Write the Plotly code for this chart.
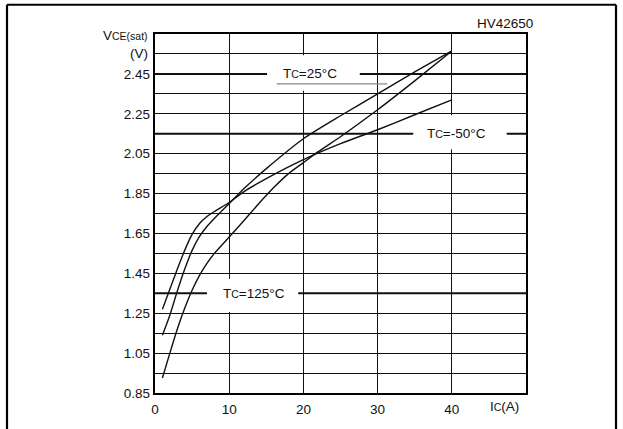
import plotly.graph_objects as go

# ---- data ----
ic_m50 = [1, 2, 3, 4, 5, 6, 7, 8, 10, 12, 15, 20, 25, 30, 35, 40]
vce_m50 = [1.27, 1.37, 1.47, 1.565, 1.645, 1.70, 1.735, 1.76, 1.805, 1.86, 1.925, 2.02, 2.10, 2.17, 2.245, 2.32]

ic_25 = [1, 2, 3, 4, 5, 6, 7, 8, 10, 12, 15, 20, 25, 30, 35, 40]
vce_25 = [1.14, 1.24, 1.36, 1.47, 1.565, 1.635, 1.685, 1.725, 1.80, 1.875, 1.975, 2.125, 2.24, 2.35, 2.46, 2.565]

ic_125 = [1, 2, 3, 4, 5, 6, 7, 8, 10, 12, 14, 16, 18, 20, 22, 25, 30, 35, 40]
vce_125 = [0.925, 1.05, 1.17, 1.275, 1.365, 1.44, 1.50, 1.55, 1.632, 1.715, 1.80, 1.88, 1.95, 2.005, 2.06, 2.135, 2.27, 2.415, 2.565]

x_tick_vals = [0, 10, 20, 30, 40]
x_tick_text = ["0", "10", "20", "30", "40"]
y_tick_vals = [0.85, 0.95, 1.05, 1.15, 1.25, 1.35, 1.45, 1.55, 1.65, 1.75,
               1.85, 1.95, 2.05, 2.15, 2.25, 2.35, 2.45, 2.55]
y_tick_text = ["0.85", "", "1.05", "", "1.25", "", "1.45", "", "1.65", "",
               "1.85", "", "2.05", "", "2.25", "", "2.45", ""]

FONT = "Liberation Sans, Arial, Helvetica, sans-serif"
SM = '<span style="font-size:10.5px">'

fig = go.Figure()
for xs, ys in [(ic_m50, vce_m50), (ic_25, vce_25), (ic_125, vce_125)]:
    fig.add_trace(go.Scatter(x=xs, y=ys, mode="lines",
                             line=dict(color="#111", width=1.4, shape="spline", smoothing=0.6),
                             showlegend=False, hoverinfo="skip"))

shapes = []
# bolder leader gridlines
for yv in [2.45, 2.15, 1.35]:
    shapes.append(dict(type="line", xref="x", yref="y", x0=0, x1=50, y0=yv, y1=yv,
                       line=dict(color="#111", width=2.0), layer="between"))
# white label boxes
for (x0, x1, y0, y1) in [(15.1, 27.6, 2.366, 2.543), (34.8, 47.4, 2.072, 2.243), (7.0, 19.3, 1.256, 1.423)]:
    shapes.append(dict(type="rect", xref="x", yref="y", x0=x0, x1=x1, y0=y0, y1=y1,
                       fillcolor="white", line=dict(width=0), layer="between"))
# grey underline under Tc=25°C
shapes.append(dict(type="line", xref="x", yref="y", x0=16.4, x1=31.3, y0=2.40, y1=2.40,
                   line=dict(color="#888", width=1.3), layer="above"))
# outer frame
for (x0, y0, x1, y1) in [(-0.3989, -0.2, -0.3989, 1.0815), (-0.3989, 1.0815, 1.2426, 1.0815),
                         (1.2426, 1.0815, 1.2426, -0.2)]:
    shapes.append(dict(type="line", xref="paper", yref="paper", x0=x0, y0=y0, x1=x1, y1=y1,
                       line=dict(color="black", width=2.2), layer="above"))

annotations = [
    dict(text="T" + SM + "C</span>=25°C", x=20.9, y=2.45, xref="x", yref="y"),
    dict(text="T" + SM + "C</span>=-50°C", x=40.6, y=2.15, xref="x", yref="y"),
    dict(text="T" + SM + "C</span>=125°C", x=13.3, y=1.35, xref="x", yref="y"),
    dict(text="V" + SM + "CE(sat)</span>", x=-0.0135, y=0.996, xref="paper", yref="paper", xanchor="right"),
    dict(text="(V)", x=-0.0135, y=0.9457, xref="paper", yref="paper", xanchor="right"),
    dict(text="HV42650", x=0.9426, y=1.0285, xref="paper", yref="paper"),
    dict(text="I" + SM + "C</span>(A)", x=0.9426, y=-0.0367, xref="paper", yref="paper"),
]
for a in annotations:
    a.setdefault("xanchor", "center")
    a["yanchor"] = "middle"
    a["showarrow"] = False
    a["font"] = dict(family=FONT, size=13.5, color="#111")

fig.update_layout(
    width=623, height=429,
    margin=dict(l=155, r=97, t=34, b=27, pad=0),
    paper_bgcolor="white", plot_bgcolor="white",
    font=dict(family=FONT, size=13.5, color="#111"),
    shapes=shapes, annotations=annotations,
    xaxis=dict(range=[0, 50], tickvals=x_tick_vals, ticktext=x_tick_text,
               showgrid=True, gridcolor="#111", gridwidth=1.3,
               showline=True, linecolor="black", linewidth=2.4, mirror=True,
               ticks="", zeroline=False, fixedrange=True, ticklabelstandoff=3),
    yaxis=dict(range=[0.85, 2.65], tickvals=y_tick_vals, ticktext=y_tick_text,
               showgrid=True, gridcolor="#111", gridwidth=1.3,
               showline=True, linecolor="black", linewidth=2.4, mirror=True,
               ticks="", zeroline=False, fixedrange=True, ticklabelstandoff=0),
)

fig.write_html("out.html", config={"displayModeBar": False},
               post_script="document.body.style.margin='0';document.body.style.overflow='hidden';")
